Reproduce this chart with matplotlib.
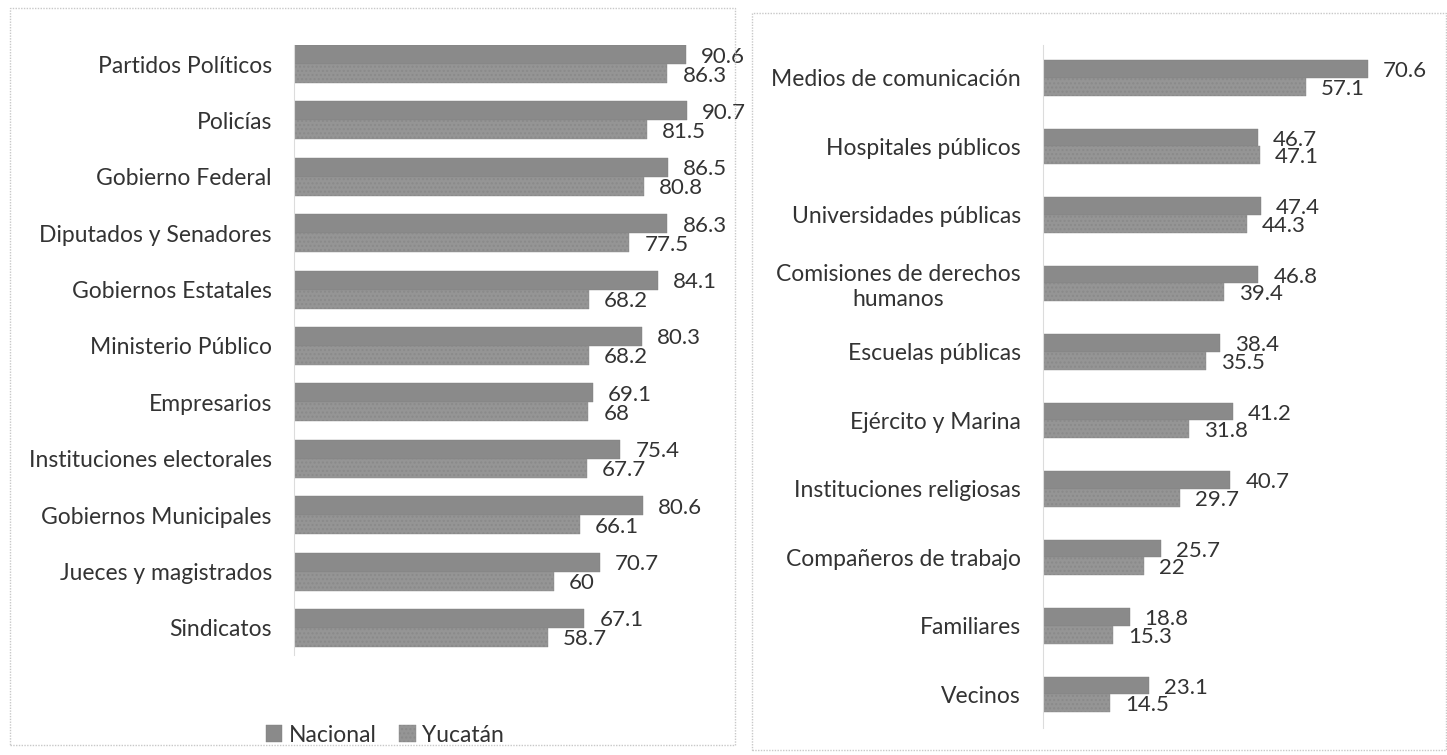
import matplotlib
matplotlib.use("Agg")
import matplotlib.pyplot as plt
from matplotlib.patches import Rectangle, Patch

plt.rcParams['font.family'] = ['Lato', 'DejaVu Sans']

left_cats = ["Partidos Políticos", "Policías", "Gobierno Federal", "Diputados y Senadores",
             "Gobiernos Estatales", "Ministerio Público", "Empresarios",
             "Instituciones electorales", "Gobiernos Municipales", "Jueces y magistrados",
             "Sindicatos"]
left_nacional = [90.6, 90.7, 86.5, 86.3, 84.1, 80.3, 69.1, 75.4, 80.6, 70.7, 67.1]
left_yucatan = [86.3, 81.5, 80.8, 77.5, 68.2, 68.2, 68, 67.7, 66.1, 60, 58.7]

right_cats = ["Medios de comunicación", "Hospitales públicos", "Universidades públicas",
              "Comisiones de derechos\nhumanos", "Escuelas públicas", "Ejército y Marina",
              "Instituciones religiosas", "Compañeros de trabajo", "Familiares", "Vecinos"]
right_nacional = [70.6, 46.7, 47.4, 46.8, 38.4, 41.2, 40.7, 25.7, 18.8, 23.1]
right_yucatan = [57.1, 47.1, 44.3, 39.4, 35.5, 31.8, 29.7, 22, 15.3, 14.5]

series_names = ["Nacional", "Yucatán"]

W, H = 1447, 755
fig = plt.figure(figsize=(W / 100, H / 100), dpi=100)
fig.patch.set_facecolor("white")

C_NAC = "#8a8a8a"
C_YUC = "#959595"
TXT = "#333333"
FS_CAT = 16.5
FS_VAL = 16


def fx(px):
    return px / W


def fy(py):
    return 1 - py / H


# panel borders
for (x0, y0, x1, y1) in [(10, 8, 735, 745), (752, 13, 1446, 750)]:
    fig.add_artist(Rectangle((fx(x0), fy(y1)), fx(x1) - fx(x0), fy(y0) - fy(y1),
                             transform=fig.transFigure, fill=False,
                             edgecolor="#c8c8c8", lw=1.0, ls=(0, (1, 1))))


def panel(rect_px, cats, nac, yuc, xmax, ylim, h):
    x0, y0, x1, y1 = rect_px
    ax = fig.add_axes([fx(x0), fy(y1), fx(x1) - fx(x0), fy(y0) - fy(y1)])
    pos = list(range(len(cats)))
    ax.barh([p - h / 2 for p in pos], nac, height=h, color=C_NAC, edgecolor="#808080",
            lw=0.3, label=series_names[0])
    ax.barh([p + h / 2 for p in pos], yuc, height=h, color=C_YUC, edgecolor="#8a8a8a",
            lw=0.3, hatch="....", label=series_names[1])
    for p, v in zip(pos, nac):
        ax.annotate(f"{v:g}", (v, p - h / 2), xytext=(15, -2), textcoords="offset pixels",
                    va="center", ha="left", fontsize=FS_VAL, color=TXT)
    for p, v in zip(pos, yuc):
        ax.annotate(f"{v:g}", (v, p + h / 2), xytext=(15, -2), textcoords="offset pixels",
                    va="center", ha="left", fontsize=FS_VAL, color=TXT)
    ax.set_xlim(0, xmax)
    ax.set_ylim(*ylim)
    ax.set_yticks(pos)
    ax.set_yticklabels(cats, fontsize=FS_CAT, color=TXT, ha="right", multialignment="center")
    ax.tick_params(axis="y", length=0, pad=16)
    ax.set_xticks([])
    for s in ["top", "right", "bottom"]:
        ax.spines[s].set_visible(False)
    ax.spines["left"].set_color("#dcdcdc")
    ax.spines["left"].set_linewidth(0.8)
    ax.patch.set_alpha(0)
    return ax


axL = panel((294, 45, 735, 655), left_cats, left_nacional, left_yucatan,
            101.9, (10.48, -0.337), 0.337)
axR = panel((1043, 45, 1447, 728), right_cats, right_nacional, right_yucatan,
            87.8, (9.49, -0.48), 0.258)

handles = [Patch(facecolor=C_NAC, edgecolor="#808080", lw=0.3),
           Patch(facecolor=C_YUC, edgecolor="#8a8a8a", lw=0.3, hatch="....")]
fig.legend(handles, series_names, loc="center", bbox_to_anchor=(fx(385), fy(735)),
           ncol=2, frameon=False, fontsize=FS_CAT, handlelength=0.7, handleheight=0.7,
           handletextpad=0.3, columnspacing=1.0, labelcolor=TXT)

fig.savefig("out.png", dpi=100)
